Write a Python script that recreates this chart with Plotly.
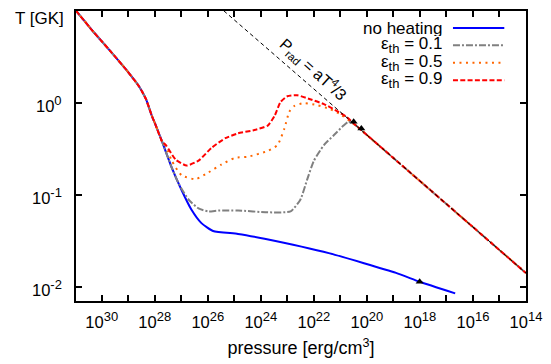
import plotly.graph_objects as go

# ---- data (log10 values) ----
common_logP = [30.97, 30.34, 29.70, 29.07, 28.59, 28.33, 28.11, 27.96, 27.73]
common_logT = [1.0, 0.78, 0.57, 0.357, 0.177, 0.039, -0.141, -0.247, -0.417]

tail_logP = [20.4, 20.0, 18.0, 16.0, 14.0]
tail_logT = [-0.25, -0.35, -0.85, -1.35, -1.85]

blue_logP = [27.36, 26.99, 26.62, 26.24, 25.80, 24.86, 23.86, 21.40, 18.90, 18.01, 16.67]
blue_logT = [-0.703, -0.947, -1.159, -1.307, -1.392, -1.424, -1.477, -1.636, -1.848, -1.944, -2.07]

gray_logP = [27.36, 27.09, 26.72, 26.35, 25.97, 25.60, 24.86, 23.74, 22.88, 22.51, 22.26,
             22.0, 21.62, 21.25, 20.88, 20.69, 20.51]
gray_logT = [-0.703, -0.883, -1.053, -1.148, -1.18, -1.17, -1.17, -1.19, -1.18, -1.053, -0.84,
             -0.63, -0.459, -0.353, -0.247, -0.205, -0.226]

orange_logP = [27.58, 27.36, 26.99, 26.46, 25.97, 25.49, 24.97, 24.49, 23.74, 23.37, 23.11,
               22.93, 22.74, 22.37, 21.89, 21.40, 21.03]
orange_logT = [-0.47, -0.629, -0.788, -0.83, -0.756, -0.671, -0.597, -0.586, -0.523, -0.459, -0.279,
               -0.099, -0.035, -0.003, -0.024, -0.067, -0.12]

red_logP = [27.58, 27.21, 26.80, 26.35, 25.86, 25.34, 24.86, 24.30, 23.74, 23.48, 23.26,
            23.0, 22.63, 22.14, 21.62, 21.14, 20.77]
red_logT = [-0.46, -0.618, -0.682, -0.629, -0.49, -0.385, -0.332, -0.30, -0.248, -0.142, 0.007,
            0.071, 0.082, 0.039, -0.014, -0.088, -0.152]

prad_logP = [25.4, 14.0]
prad_logT = [1.0, -1.85]

marker_logP = [20.50, 20.21, 18.01]
marker_logT = [-0.205, -0.279, -1.944]

x_tick_exp = list(range(30, 13, -1))
y_tick_exp = [-2, -1, 0]

series_names = ["no heating",
                'ε<sub><span style="font-size:13px">th</span></sub> = 0.1',
                'ε<sub><span style="font-size:13px">th</span></sub> = 0.5',
                'ε<sub><span style="font-size:13px">th</span></sub> = 0.9']
series_colors = ["#0000ff", "#808080", "#ff6600", "#ff0000"]
series_dash = ["solid", "7px,2px,2px,2px", "2px,4.5px", "5px,2.3px"]


def pw(a):
    return [10.0 ** v for v in a]


def sup(e):
    return '10<sup><span style="font-size:13px">%d</span></sup>' % e


FONT = "Liberation Sans, Arial, sans-serif"
FS = 16.5
fig = go.Figure()

curves = [
    (common_logP + blue_logP, common_logT + blue_logT),
    (common_logP + gray_logP + tail_logP, common_logT + gray_logT + tail_logT),
    (common_logP + orange_logP + tail_logP, common_logT + orange_logT + tail_logT),
    (common_logP + red_logP + tail_logP, common_logT + red_logT + tail_logT),
]
for (lp, lt), name, col, dash in zip(curves, series_names, series_colors, series_dash):
    fig.add_trace(go.Scatter(x=pw(lp), y=pw(lt), mode="lines", name=name,
                             line=dict(color=col, width=2, dash=dash, shape="spline", smoothing=0.5),
                             showlegend=False))

fig.add_trace(go.Scatter(x=pw(prad_logP), y=pw(prad_logT), mode="lines",
                         line=dict(color="black", width=1, dash="4px,3px"), showlegend=False))
fig.add_trace(go.Scatter(x=pw(marker_logP), y=pw(marker_logT), mode="markers",
                         marker=dict(symbol="triangle-up", size=7, color="black"), showlegend=False))

# manual gnuplot-style legend (text right-aligned, sample to the right)
rows_y = [26.5, 44.2, 62.2, 80.2]
for ry, name, col, dash in zip(rows_y, series_names, series_colors, series_dash):
    fig.add_annotation(xref="paper", yref="paper", x=(448 - 76) / 456.0, y=1 - (ry - 9) / 298.0,
                       xanchor="right", yanchor="middle", text=name, showarrow=False,
                       height=16, borderpad=0,
                       font=dict(family=FONT, size=17, color="black"))
    fig.add_shape(type="line", xref="paper", yref="paper",
                  x0=(458 - 76) / 456.0, x1=(510 - 76) / 456.0,
                  y0=1 - (ry - 9) / 298.0, y1=1 - (ry - 9) / 298.0,
                  line=dict(color=col, width=2, dash=dash))

fig.add_annotation(x=22.03, y=0.37, xref="x", yref="y", text="P<sub>rad</sub> = aT<sup>4</sup>/3",
                   textangle=42, showarrow=False, font=dict(family=FONT, size=16, color="black"))

fig.add_annotation(xref="paper", yref="paper", x=-64 / 456.0, y=1 - (16.5 - 9) / 298.0,
                   xanchor="left", yanchor="middle", text="T [GK]", showarrow=False,
                   font=dict(family=FONT, size=17, color="black"))

# y tick labels (gnuplot places them close to the axis)
for e in y_tick_exp:
    fig.add_annotation(xref="paper", yref="y", x=(63.5 - 76) / 456.0, y=e,
                       xanchor="right", yanchor="middle", yshift=-1, text=sup(e), showarrow=False,
                       font=dict(family=FONT, size=FS, color="black"))

fig.update_xaxes(type="log", range=[30.97, 14.0],
                 tickvals=[10.0 ** e for e in x_tick_exp],
                 ticktext=[sup(e) if e % 2 == 0 else "" for e in x_tick_exp],
                 ticks="inside", ticklen=6, tickwidth=1.5, tickcolor="black",
                 showline=True, linecolor="black", linewidth=2, mirror="allticks",
                 showgrid=False, zeroline=False, ticklabelstandoff=5,
                 title=dict(text="pressure [erg/cm<sup>3</sup>]", font=dict(family=FONT, size=18), standoff=12),
                 tickfont=dict(family=FONT, size=FS, color="black"))
fig.update_yaxes(type="log", range=[-2.153, 0.997],
                 tickvals=[10.0 ** e for e in y_tick_exp],
                 showticklabels=False,
                 ticks="inside", ticklen=6, tickwidth=1.5, tickcolor="black",
                 showline=True, linecolor="black", linewidth=2, mirror="allticks",
                 showgrid=False, zeroline=False)

fig.update_layout(width=551, height=364, margin=dict(l=76, r=19, t=9, b=57),
                  paper_bgcolor="white", plot_bgcolor="white",
                  font=dict(family=FONT, color="black"))

fig.write_html("out.html")
